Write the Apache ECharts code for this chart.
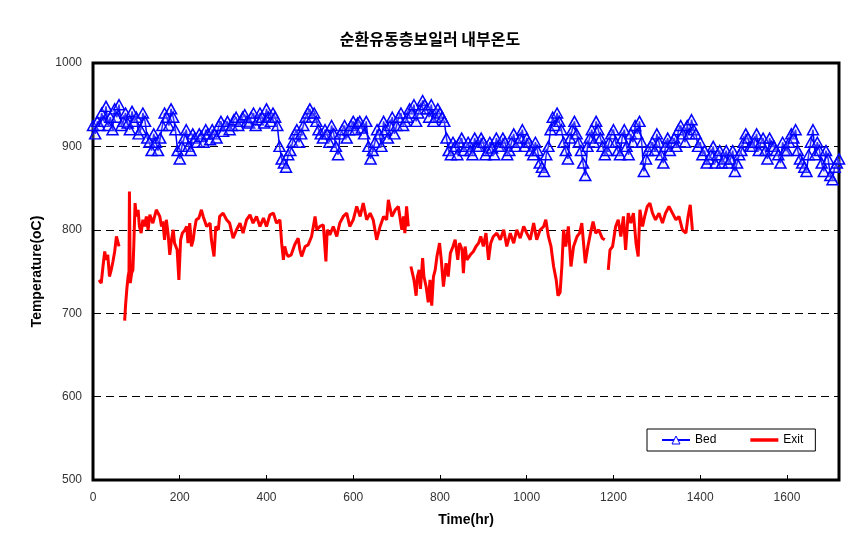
<!DOCTYPE html>
<html>
<head>
<meta charset="utf-8">
<script src="https://cdn.jsdelivr.net/npm/echarts@6/dist/echarts.min.js"></script>
<style>
  html, body { margin: 0; padding: 0; background: #fff; }
  #chart { width: 860px; height: 539px; }
</style>
</head>
<body>
<div id="chart"></div>
<script>
// Bed temperature, readings on the hour marks t = 0, 10, 20 ... 1720
var bedStep = 10;
var bedTemp = [
  925, 930, 940, 948, 935, 945, 950, 930, 928, 942,
  935, 920, 930, 905, 915, 895, 925, 935, 945, 920,
  885, 910, 900, 915, 905, 912, 920, 908, 915, 925,
  918, 930, 925, 935, 930, 938, 928, 940, 932, 935,
  945, 930, 935, 900, 880, 890, 905, 920, 915, 935,
  945, 940, 920, 910, 915, 925, 900, 915, 925, 920,
  930, 928, 922, 930, 885, 905, 915, 930, 910, 935,
  925, 940, 930, 945, 950, 940, 955, 945, 950, 935,
  940, 930, 895, 905, 890, 910, 900, 895, 910, 900,
  905, 895, 898, 910, 900, 905, 895, 915, 905, 920,
  910, 895, 905, 880, 870, 900, 935, 940, 920, 895,
  910, 930, 905, 880, 900, 920, 930, 910, 890, 905,
  920, 895, 910, 900, 915, 925, 930, 870, 895, 905,
  915, 890, 900, 895, 910, 920, 915, 925, 932, 915,
  905, 895, 885, 900, 890, 880, 895, 885, 870, 890,
  905, 910, 900, 915, 905, 895, 910, 900, 890, 905,
  895, 915, 920, 885, 875, 890, 920, 905, 880, 895,
  865, 875, 885
];
// Bed temperature, readings in between: t = 5, 15, 25 ... 1715
var bedTempMid = [
  915, 925, 930, 925, 920, 935, 925, 940, 920, 930,
  915, 940, 910, 895, 905, 910, 940, 925, 935, 895,
  900, 920, 895, 910, 915, 905, 915, 920, 910, 930,
  925, 920, 932, 925, 935, 930, 935, 925, 940, 928,
  935, 940, 925, 885, 875, 895, 915, 905, 925, 940,
  935, 930, 915, 920, 905, 915, 890, 920, 910, 925,
  920, 930, 915, 900, 895, 920, 900, 920, 925, 915,
  935, 925, 935, 940, 930, 945, 950, 935, 930, 945,
  935, 910, 890, 900, 905, 895, 905, 890, 900, 910,
  890, 905, 890, 900, 910, 890, 905, 900, 910, 900,
  905, 890, 895, 875, 890, 920, 925, 930, 905, 885,
  920, 915, 895, 865, 910, 905, 920, 900, 895, 915,
  905, 890, 920, 890, 905, 915, 905, 885, 900, 895,
  905, 880, 910, 905, 900, 925, 905, 915, 920, 900,
  890, 880, 890, 880, 895, 885, 880, 895, 880, 895,
  915, 900, 905, 895, 910, 885, 900, 895, 880, 895,
  905, 910, 895, 880, 870, 905, 890, 895, 870, 885,
  860, 880
];

// Exit temperature (null = no reading)
var exitTime = [
  14, 19, 23, 27, 30, 34, 38, 42, 46, 50,
  54, 60, 66, 73, 75, 78, 81, 83, 84, 86,
  89, 92, 94, 97, 100, 104, 107, 111, 115, 119,
  123, 127, 131, 138, 146, 150, 154, 158, 161, 165,
  169, 173, 177, 181, 185, 188, 194, 198, 202, 206,
  212, 216, 219, 223, 227, 231, 234, 238, 244, 250,
  254, 258, 262, 270, 273, 279, 283, 289, 292, 300,
  308, 315, 323, 331, 339, 346, 354, 362, 369, 377,
  385, 393, 400, 408, 416, 423, 431, 435, 439, 442,
  446, 450, 457, 465, 473, 477, 481, 489, 496, 504,
  512, 516, 523, 531, 537, 540, 546, 554, 562, 569,
  577, 585, 592, 600, 608, 616, 623, 631, 639, 646,
  654, 662, 670, 677, 681, 689, 697, 704, 712, 716,
  719, 723, 727, 729,
  733, 737, 740, 745, 748, 752, 755, 760, 763, 768,
  773, 777, 781, 785, 789, 793, 799, 803, 808, 814,
  819, 824, 830, 835, 841, 845, 851, 854, 858, 862,
  870, 877, 883, 889, 894, 900, 906, 912, 917, 923,
  931, 939, 947, 954, 962, 970, 977, 985, 993, 1000,
  1008, 1016, 1023, 1031, 1039, 1044, 1050, 1056, 1062, 1068,
  1072, 1077, 1081, 1085, 1090, 1096, 1102, 1108, 1116, 1122,
  1127, 1135, 1141, 1147, 1153, 1159, 1166, 1174, 1180, 1184,
  1188, 1192, 1198, 1205, 1211, 1217, 1223, 1228, 1234, 1240,
  1246, 1252, 1257, 1261, 1267, 1272, 1278, 1284, 1290, 1297,
  1305, 1313, 1320, 1328, 1336, 1344, 1351, 1359, 1367, 1372,
  1377, 1382
];
var exitTemp = [
  740, 736, 756, 774, 764, 770, 744, 752, 762, 774,
  792, 780, null, 691, 709, 729, 744, 750, 846, 736,
  748, 752, 780, 832, 816, 824, 804, 796, 812, 804,
  816, 800, 818, 808, 824, 826, 816, 804, 810, 788,
  812, 796, 770, 788, 800, 784, 776, 740, 788, 796,
  800, 804, 784, 808, 780, 788, 800, 812, 814, 824,
  816, 810, 804, 808, 788, 768, 804, 800, 816, 820,
  812, 808, 790, 800, 808, 796, 812, 818, 808, 816,
  804, 814, 804, 818, 820, 808, 812, 784, 764, 780,
  772, 768, 770, 782, 790, 776, 768, 780, 782, 792,
  816, 800, 804, 806, 762, 800, 794, 804, 792, 808,
  816, 820, 804, 812, 828, 816, 832, 812, 820, 812,
  788, 804, 816, 812, 836, 816, 824, 828, 800, 816,
  796, 828, 804, null,
  756, 754, 740, 721, 744, 752, 729, 766, 744, 732,
  713, 740, 709, 744, 752, 768, 784, 764, 732, 760,
  744, 772, 780, 788, 764, 784, 776, 748, 780, 764,
  770, 774, 780, 784, 792, 780, 796, 764, 784, 792,
  796, 788, 800, 780, 796, 784, 800, 790, 804, 796,
  788, 808, 788, 800, 804, 812, 792, 780, 756, 740,
  721, 725, 756, 800, 780, 804, 756, 780, 792, 796,
  808, 760, 780, 796, 810, 796, 800, 790, 788, null,
  752, 776, 780, 804, 812, 792, 816, 776, 820, 808,
  820, 784, 768, 824, 804, 816, 828, 832, 820, 812,
  820, 808, 820, 828, 820, 812, 816, 800, 796, 816,
  830, 800
];

var bedData = [];
for (var i = 0; i < bedTemp.length; i++) {
    bedData.push([i * bedStep, bedTemp[i]]);
    if (i < bedTempMid.length) bedData.push([i * bedStep + bedStep / 2, bedTempMid[i]]);
}
var exitData = exitTime.map(function (t, i) { return [t, exitTemp[i]]; });

var chart = echarts.init(document.getElementById('chart'));
var labelFont = '"Liberation Sans", Arial, sans-serif';

option = {
    backgroundColor: '#fff',
    animation: false,
    title: {
        text: '순환유동층보일러 내부온도',
        left: 'center',
        top: 26,
        textStyle: {
            fontFamily: '"Noto Sans CJK KR", sans-serif',
            fontSize: 16,
            fontWeight: 'bold',
            color: '#000'
        }
    },
    legend: {
        left: 647,
        top: 429,
        width: 160,
        padding: [5, 12, 5, 14],
        itemGap: 34,
        itemWidth: 28,
        itemHeight: 10,
        borderColor: '#000',
        borderWidth: 1,
        backgroundColor: '#fff',
        textStyle: { fontFamily: labelFont, fontSize: 12, color: '#000' },
        data: [
            { name: 'Bed', itemStyle: { color: '#fff', borderWidth: 1 } },
            { name: 'Exit', icon: 'path://M0 0h40v5H0z' }
        ]
    },
    grid: {
        left: 93,
        right: 21,
        top: 63,
        bottom: 59,
        show: true,
        borderColor: '#000',
        borderWidth: 3,
        containLabel: false
    },
    xAxis: {
        type: 'value',
        min: 0,
        max: 1720,
        interval: 200,
        name: 'Time(hr)',
        nameLocation: 'middle',
        nameGap: 33,
        nameTextStyle: { fontFamily: labelFont, fontSize: 14, fontWeight: 'bold', color: '#000' },
        axisLine: { show: false },
        axisTick: { show: true, inside: true, length: 5, lineStyle: { color: '#000' } },
        axisLabel: {
            showMaxLabel: false, margin: 12, fontFamily: labelFont, fontSize: 12, color: '#333',
            formatter: function (v) { return String(v); }
        },
        splitLine: { show: false }
    },
    yAxis: {
        type: 'value',
        min: 500,
        max: 1000,
        interval: 100,
        name: 'Temperature(oC)',
        nameLocation: 'middle',
        nameGap: 47,
        nameTextStyle: { fontFamily: labelFont, fontSize: 14, fontWeight: 'bold', color: '#000' },
        axisLine: { show: false },
        axisTick: { show: false },
        axisLabel: {
            margin: 11, fontFamily: labelFont, fontSize: 12, color: '#333',
            formatter: function (v) { return String(v); }
        },
        splitLine: { show: true, lineStyle: { color: '#000', width: 1, type: [8, 5] } }
    },
    series: [
        {
            name: 'Bed',
            type: 'line',
            data: bedData,
            symbol: 'triangle',
            symbolSize: [11, 10],
            lineStyle: { color: '#0000ff', width: 1.5 },
            itemStyle: { color: 'rgba(200,200,255,0.25)', borderColor: '#0000ff', borderWidth: 1.5 },
            z: 2
        },
        {
            name: 'Exit',
            type: 'line',
            data: exitData,
            symbol: 'none',
            connectNulls: false,
            lineStyle: { color: '#ff0000', width: 3 },
            itemStyle: { color: '#ff0000' },
            z: 3
        }
    ]
};

chart.setOption(option);
</script>
</body>
</html>
